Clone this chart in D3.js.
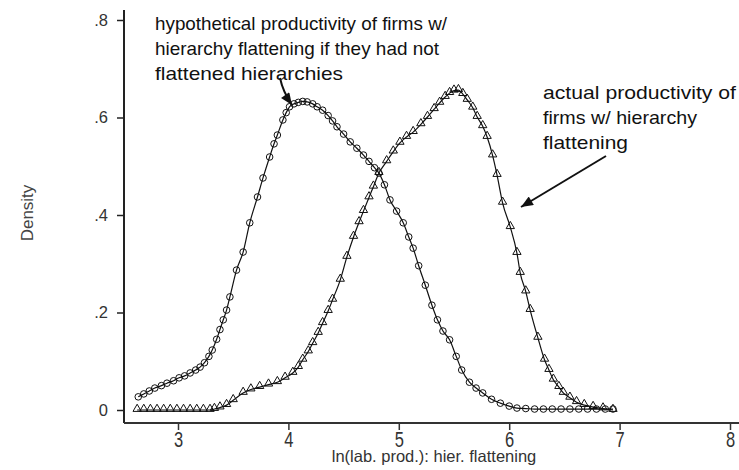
<!DOCTYPE html>
<html>
<head>
<meta charset="utf-8">
<script src="https://cdn.jsdelivr.net/npm/d3@7"></script>
<style>
    body { margin: 0; background: white; }
    svg { display: block; font-family: Arial, "Liberation Sans", sans-serif; }
</style>
</head>
<body>
<div id="chart"></div>
<script>
// kernel density, counterfactual (circles)
const hypothetical = [
    [2.64, .027], [2.69, .033], [2.74, .039], [2.79, .045], [2.85, .050], [2.90, .055],
    [2.96, .060], [3.01, .066], [3.06, .070], [3.11, .076], [3.16, .082], [3.20, .088],
    [3.24, .097], [3.28, .110], [3.31, .123], [3.35, .145], [3.38, .165], [3.41, .185],
    [3.44, .205], [3.47, .232], [3.53, .287], [3.59, .324], [3.65, .384], [3.72, .437],
    [3.77, .476], [3.83, .519], [3.87, .546], [3.90, .564], [3.95, .595], [3.98, .610],
    [4.01, .622], [4.05, .628], [4.09, .631], [4.13, .633], [4.17, .632], [4.22, .628],
    [4.26, .622], [4.31, .615], [4.36, .604], [4.40, .593], [4.44, .581], [4.50, .566],
    [4.56, .550], [4.62, .537], [4.68, .523], [4.73, .510], [4.78, .497], [4.82, .486],
    [4.87, .462], [4.92, .431], [4.98, .408], [5.04, .384], [5.09, .355], [5.13, .332],
    [5.18, .296], [5.24, .256], [5.30, .215], [5.35, .185], [5.40, .162], [5.46, .144],
    [5.52, .110], [5.57, .082], [5.64, .057], [5.70, .045], [5.76, .035], [5.84, .022],
    [5.92, .014], [6.00, .008], [6.07, .004], [6.15, .003], [6.23, .002], [6.31, .002],
    [6.39, .002], [6.47, .002], [6.55, .002], [6.63, .002], [6.71, .002], [6.79, .002],
    [6.87, .002], [6.94, .002]
];

// kernel density, actual (triangles)
const actual = [
    [2.63, 0], [2.69, 0], [2.75, 0], [2.81, 0], [2.87, 0], [2.93, 0], [2.99, 0],
    [3.05, 0], [3.11, 0], [3.17, 0], [3.23, 0], [3.29, 0], [3.33, .002], [3.38, .005],
    [3.44, .010], [3.50, .020], [3.59, .035], [3.66, .042], [3.74, .047], [3.82, .052],
    [3.90, .057], [3.97, .066], [4.04, .076], [4.09, .088], [4.13, .103], [4.18, .120],
    [4.22, .137], [4.27, .158], [4.31, .178], [4.36, .203], [4.40, .226], [4.47, .267],
    [4.53, .314], [4.59, .355], [4.64, .385], [4.68, .408], [4.73, .436], [4.77, .458],
    [4.82, .486], [4.89, .510], [4.95, .530], [5.01, .548], [5.07, .560], [5.13, .570],
    [5.20, .586], [5.26, .601], [5.32, .617], [5.37, .630], [5.42, .642], [5.46, .650],
    [5.50, .655], [5.54, .656], [5.58, .648], [5.62, .636], [5.67, .620], [5.71, .601],
    [5.76, .582], [5.80, .560], [5.85, .522], [5.89, .482], [5.94, .425], [6.01, .375],
    [6.07, .322], [6.10, .281], [6.15, .243], [6.19, .205], [6.26, .148], [6.32, .103],
    [6.36, .082], [6.40, .062], [6.45, .047], [6.49, .035], [6.55, .025], [6.61, .016],
    [6.68, .010], [6.76, .006], [6.85, .003], [6.94, 0]
];

const xTicks = [3, 4, 5, 6, 7, 8];
const yTicks = [0, .2, .4, .6, .8];

const xTitle = "ln(lab. prod.): hier. flattening";
const yTitle = "Density";
const noteLeft = ["hypothetical productivity of firms w/", "hierarchy flattening if they had not", "flattened hierarchies"];
const noteRight = ["actual productivity of", "firms w/ hierarchy", "flattening"];

const width = 739;
const height = 470;

const svg = d3.select("#chart").append("svg")
    .attr("width", width)
    .attr("height", height);

const x = d3.scaleLinear().domain([3, 8]).range([178, 730]);
const y = d3.scaleLinear().domain([0, .8]).range([410, 20]);

const axisX = 124;   // where the y axis sits
const axisY = 423;   // where the x axis sits

// axis lines (Stata draws them offset from the plot region)
svg.append("line")
    .attr("x1", axisX).attr("x2", axisX)
    .attr("y1", 10).attr("y2", axisY)
    .attr("stroke", "#222")
    .attr("stroke-width", 2);

svg.append("line")
    .attr("x1", axisX).attr("x2", width)
    .attr("y1", axisY).attr("y2", axisY)
    .attr("stroke", "#333")
    .attr("stroke-width", 2);

// y axis
const yAxis = svg.append("g")
    .attr("transform", `translate(${axisX},0)`)
    .call(d3.axisLeft(y)
        .tickValues(yTicks)
        .tickSize(7)
        .tickFormat(d => d === 0 ? "0" : d3.format(".1f")(d).replace(/^0/, "")));
yAxis.select(".domain").remove();
yAxis.selectAll(".tick line").attr("stroke", "#222").attr("stroke-width", 1.5);
yAxis.selectAll(".tick text")
    .attr("x", -16)
    .attr("font-size", 16.5)
    .attr("font-family", "Arial, 'Liberation Sans', sans-serif")
    .attr("fill", "#333");

// x axis
const xAxis = svg.append("g")
    .attr("transform", `translate(0,${axisY})`)
    .call(d3.axisBottom(x).tickValues(xTicks).tickSize(7).tickFormat(d3.format("d")));
xAxis.select(".domain").remove();
xAxis.selectAll(".tick line").attr("stroke", "#333").attr("stroke-width", 1.5);
xAxis.selectAll(".tick text")
    .attr("y", 8)
    .attr("font-size", 22)
    .attr("font-family", "Arial, 'Liberation Sans', sans-serif")
    .attr("transform", "scale(0.75,1)")
    .attr("fill", "#333");

// axis titles
svg.append("text")
    .attr("x", 434)
    .attr("y", 462)
    .attr("text-anchor", "middle")
    .attr("font-size", 16.5)
    .attr("fill", "#333")
    .text(xTitle);

svg.append("text")
    .attr("transform", "translate(33,213) rotate(-90)")
    .attr("text-anchor", "middle")
    .attr("font-size", 17)
    .attr("fill", "#444")
    .text(yTitle);

// density lines
const line = d3.line()
    .x(d => x(d[0]))
    .y(d => y(d[1]))
    .curve(d3.curveMonotoneX);

[hypothetical, actual].forEach(series => {
    svg.append("path")
        .datum(series)
        .attr("d", line)
        .attr("fill", "none")
        .attr("stroke", "#111")
        .attr("stroke-width", 1.2);
});

// markers
svg.append("g").selectAll("circle")
    .data(hypothetical)
    .enter().append("circle")
    .attr("cx", d => x(d[0]))
    .attr("cy", d => y(d[1]))
    .attr("r", 3.3)
    .attr("fill", "none")
    .attr("stroke", "#111")
    .attr("stroke-width", 1);

const tri = d3.symbol().type(d3.symbolTriangle).size(30);
svg.append("g").selectAll("path")
    .data(actual)
    .enter().append("path")
    .attr("d", tri)
    .attr("transform", d => `translate(${x(d[0])},${y(d[1]) - 1})`)
    .attr("fill", "none")
    .attr("stroke", "#111")
    .attr("stroke-width", 1);

// annotations
function note(lines, left, top, widths) {
    lines.forEach((t, i) => {
        svg.append("text")
            .attr("x", left)
            .attr("y", top + i * 25)
            .attr("font-size", 19)
            .attr("fill", "#111")
            .attr("textLength", widths[i])
            .attr("lengthAdjust", "spacingAndGlyphs")
            .text(t);
    });
}
note(noteLeft, 155, 30, [292, 284, 188]);
note(noteRight, 543, 99, [193, 154, 85]);

// arrows
const defs = svg.append("defs");
defs.append("marker")
    .attr("id", "head")
    .attr("viewBox", "0 0 12 10")
    .attr("refX", 12)
    .attr("refY", 5)
    .attr("markerUnits", "userSpaceOnUse")
    .attr("markerWidth", 14)
    .attr("markerHeight", 10)
    .attr("orient", "auto")
    .append("path")
    .attr("d", "M0,0 L12,5 L0,10 Z")
    .attr("fill", "#111");

svg.append("path")
    .attr("d", "M280,78 Q283,92 292,105")
    .attr("fill", "none")
    .attr("stroke", "#111")
    .attr("stroke-width", 2)
    .attr("marker-end", "url(#head)");

svg.append("path")
    .attr("d", "M606,156 L521,207")
    .attr("fill", "none")
    .attr("stroke", "#111")
    .attr("stroke-width", 2)
    .attr("marker-end", "url(#head)");
</script>
</body>
</html>
